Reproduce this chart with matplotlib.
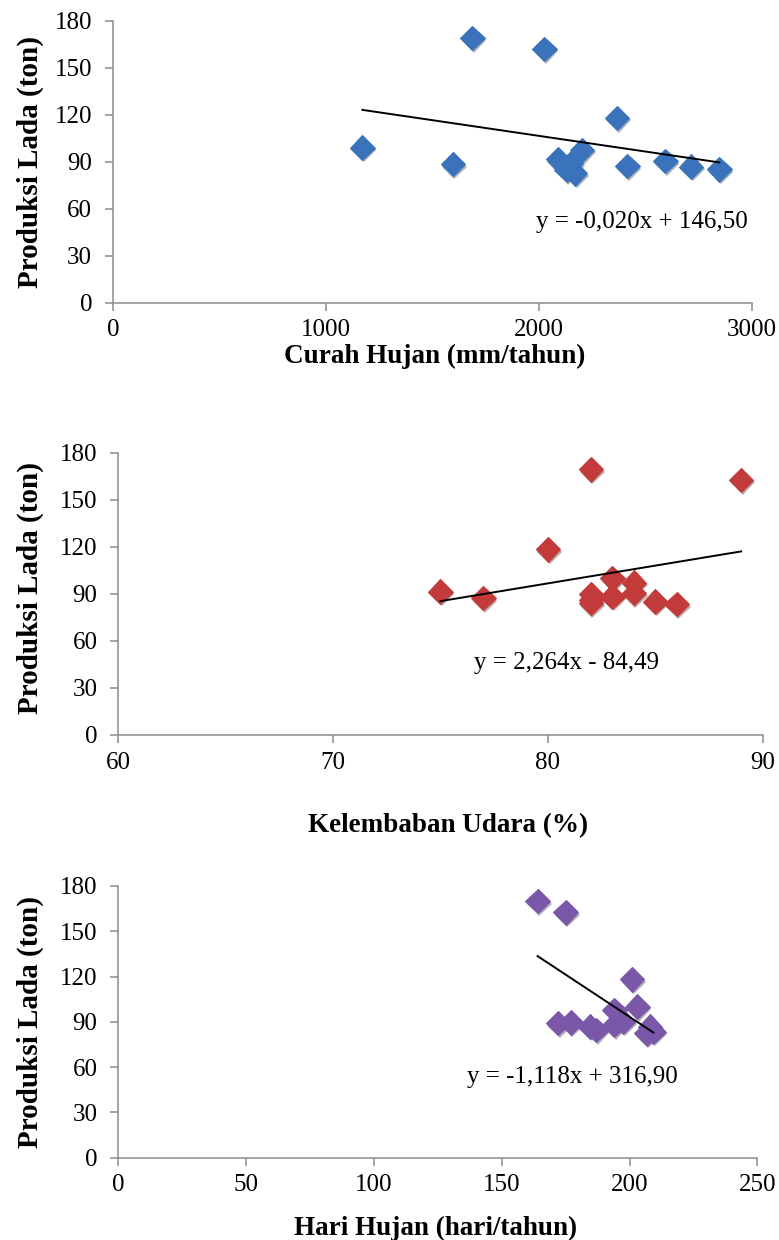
import matplotlib
matplotlib.use("Agg")
import matplotlib.pyplot as plt
import matplotlib.patheffects as pe
import numpy as np

plt.rcParams['font.family'] = ['Liberation Serif', 'DejaVu Serif']

# Produksi Lada (ton) vs Curah Hujan (mm/tahun)
curah_hujan = [1171, 1688, 2026, 1596, 2367, 2089, 2202, 2131, 2170, 2150, 2416, 2594, 2715, 2848]
produksi_ch = [99, 169, 162, 88.5, 118, 91.5, 97.5, 84.7, 82.6, 89, 87.2, 90.4, 86.8, 85.1]
eq_ch = (-0.020, 146.50)
eq_ch_text = "y = -0,020x + 146,50"

# Produksi Lada (ton) vs Kelembaban Udara (%)
kelembaban = [75, 77, 80, 82, 89, 82, 82, 82, 83, 83, 84, 84, 85, 86]
produksi_ku = [91.4, 87.2, 118.4, 169.4, 162.6, 89.9, 84, 86, 99.9, 88.2, 97.1, 90.4, 85, 83.4]
eq_ku = (2.264, -84.49)
eq_ku_text = "y = 2,264x - 84,49"

# Produksi Lada (ton) vs Hari Hujan (hari/tahun)
hari_hujan = [164, 175, 201, 172, 177, 184.5, 187, 194, 194, 203, 197.5, 208, 209.3, 206.7]
produksi_hh = [170, 162.6, 118.2, 89.1, 89.7, 86.8, 84.6, 87.9, 97.9, 100, 90.1, 86.8, 83.5, 82.4]
eq_hh = (-1.118, 316.90)
eq_hh_text = "y = -1,118x + 316,90"

fig = plt.figure(figsize=(7.79, 12.4), dpi=100)

panels = [
    dict(rect=[0.1451, 0.7559, 0.8199, 0.2274], x=curah_hujan, y=produksi_ch, eq=eq_ch, eq_text=eq_ch_text,
         color='#3A73BC', xlim=(0, 3000), xticks=[0, 1000, 2000, 3000], xlabel="Curah Hujan (mm/tahun)",
         xlabel_pos=(0.504, -0.192), ylabel_pos=(-0.129, 0.5), eq_pos=(0.828, 0.286)),
    dict(rect=[0.1519, 0.4073, 0.8271, 0.2277], x=kelembaban, y=produksi_ku, eq=eq_ku, eq_text=eq_ku_text,
         color='#C23B3A', xlim=(60, 90), xticks=[60, 70, 80, 90], xlabel="Kelembaban Udara (%)",
         xlabel_pos=(0.512, -0.322), ylabel_pos=(-0.137, 0.52), eq_pos=(0.696, 0.255)),
    dict(rect=[0.1519, 0.0664, 0.8204, 0.2191], x=hari_hujan, y=produksi_hh, eq=eq_hh, eq_text=eq_hh_text,
         color='#7A57A8', xlim=(0, 250), xticks=[0, 50, 100, 150, 200, 250], xlabel="Hari Hujan (hari/tahun)",
         xlabel_pos=(0.496, -0.262), ylabel_pos=(-0.137, 0.5), eq_pos=(0.710, 0.297)),
]

for p in panels:
    ax = fig.add_axes(p['rect'])
    ax.plot(p['x'], p['y'], linestyle='none', marker='D', markersize=12.5,
            color=p['color'], markeredgecolor=p['color'], markeredgewidth=0.8,
            path_effects=[pe.SimplePatchShadow(offset=(1.2, -1.8), alpha=0.35), pe.Normal()],
            zorder=3)
    xs = np.array([min(p['x']), max(p['x'])])
    ax.plot(xs, p['eq'][0] * xs + p['eq'][1], color='black', linewidth=1.4, zorder=4)

    ax.set_xlim(*p['xlim'])
    ax.set_ylim(0, 180)
    ax.set_xticks(p['xticks'])
    ax.set_yticks(range(0, 181, 30))
    for side in ['top', 'right']:
        ax.spines[side].set_visible(False)
    for side in ['left', 'bottom']:
        ax.spines[side].set_color('#8C8C8C')
        ax.spines[side].set_linewidth(1.1)
    ax.tick_params(direction='out', length=6, width=1.1, color='#8C8C8C',
                   labelsize=18, pad=6)
    ax.tick_params(axis='y', pad=9)

    ax.set_xlabel(p['xlabel'], fontsize=19.5, fontweight='bold')
    ax.xaxis.set_label_coords(*p['xlabel_pos'])
    ax.xaxis.label.set_va('center')
    ax.set_ylabel("Produksi Lada (ton)", fontsize=21, fontweight='bold')
    ax.yaxis.set_label_coords(*p['ylabel_pos'])
    ax.yaxis.label.set_va('center')

    ax.text(p['eq_pos'][0], p['eq_pos'][1], p['eq_text'], transform=ax.transAxes,
            ha='center', va='center', fontsize=18)

fig.savefig("out.png", dpi=100)
